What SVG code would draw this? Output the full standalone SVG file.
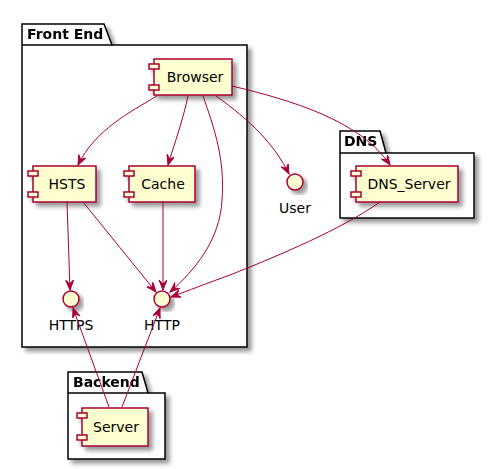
<svg xmlns="http://www.w3.org/2000/svg" width="495" height="469" viewBox="0 0 495 469">
<defs>
<filter id="sh" x="-20%" y="-20%" width="150%" height="150%">
<feGaussianBlur in="SourceAlpha" stdDeviation="2"/>
<feOffset dx="4" dy="4" result="b"/>
<feComponentTransfer><feFuncA type="linear" slope="0.4"/></feComponentTransfer>
<feMerge><feMergeNode/><feMergeNode in="SourceGraphic"/></feMerge>
</filter>
<marker id="ah" markerUnits="userSpaceOnUse" markerWidth="11" markerHeight="9" refX="10" refY="4" orient="auto" viewBox="0 0 11 9">
<path d="M0,0 L10,4 L0,8 L4,4 Z" fill="#A80036" stroke="#A80036" stroke-width="1"/>
</marker>
<style>
.pkg{fill:#FFFFFF;stroke:#000000;stroke-width:1.5;}
.pl{font-family:"DejaVu Sans",sans-serif;font-size:14px;font-weight:bold;fill:#000;}
.cb{fill:#FEFECE;stroke:#A80036;stroke-width:1.5;}
.t{font-family:"DejaVu Sans",sans-serif;font-size:14px;fill:#000;text-anchor:middle;}
.e{fill:none;stroke:#A80036;stroke-width:1;marker-end:url(#ah);}
</style>
</defs>
<rect width="495" height="469" fill="#FFFFFF"/>

<g id="pkg-frontend" filter="url(#sh)">
<path class="pkg" d="M22,24 L104,24 L112,45 L247,45 L247,347 L22,347 Z"/>
<line x1="22" y1="45" x2="112" y2="45" stroke="#000" stroke-width="1.5"/>
<text class="pl" x="27" y="39">Front End</text>
</g>
<g id="pkg-dns" filter="url(#sh)">
<path class="pkg" d="M340,131 L380,131 L386,153 L474,153 L474,218 L340,218 Z"/>
<line x1="340" y1="153" x2="386" y2="153" stroke="#000" stroke-width="1.5"/>
<text class="pl" x="344" y="146">DNS</text>
</g>
<g id="pkg-backend" filter="url(#sh)">
<path class="pkg" d="M68,372 L142,372 L148,393 L165,393 L165,459 L68,459 Z"/>
<line x1="68" y1="393" x2="148" y2="393" stroke="#000" stroke-width="1.5"/>
<text class="pl" x="73" y="387">Backend</text>
</g>

<g id="browser">
<g filter="url(#sh)">
<rect class="cb" x="154" y="59" width="78" height="36"/>
<rect class="cb" x="149" y="64" width="10" height="5"/>
<rect class="cb" x="149" y="85" width="10" height="5"/>
</g>
<text class="t" x="195" y="82">Browser</text>
</g>
<g id="hsts">
<g filter="url(#sh)">
<rect class="cb" x="33" y="166" width="63" height="36"/>
<rect class="cb" x="28" y="171" width="10" height="5"/>
<rect class="cb" x="28" y="192" width="10" height="5"/>
</g>
<text class="t" x="67" y="189">HSTS</text>
</g>
<g id="cache">
<g filter="url(#sh)">
<rect class="cb" x="129" y="166" width="66" height="36"/>
<rect class="cb" x="124" y="171" width="10" height="5"/>
<rect class="cb" x="124" y="192" width="10" height="5"/>
</g>
<text class="t" x="163" y="189">Cache</text>
</g>
<g id="dns_server">
<g filter="url(#sh)">
<rect class="cb" x="356" y="166" width="102" height="36"/>
<rect class="cb" x="351" y="171" width="10" height="5"/>
<rect class="cb" x="351" y="192" width="10" height="5"/>
</g>
<text class="t" x="409" y="189">DNS_Server</text>
</g>
<g id="server">
<g filter="url(#sh)">
<rect class="cb" x="82" y="408" width="66" height="38"/>
<rect class="cb" x="77" y="413" width="10" height="5"/>
<rect class="cb" x="77" y="435" width="10" height="5"/>
</g>
<text class="t" x="116" y="432">Server</text>
</g>
<g id="https">
<circle class="cb" cx="71" cy="299" r="8" filter="url(#sh)"/>
<text class="t" x="71" y="330">HTTPS</text>
</g>
<g id="http">
<circle class="cb" cx="162" cy="299" r="8" filter="url(#sh)"/>
<text class="t" x="162" y="330">HTTP</text>
</g>
<g id="user">
<circle class="cb" cx="295" cy="182" r="8" filter="url(#sh)"/>
<text class="t" x="295" y="213">User</text>
</g>

<g id="connectors">
<path class="e" d="M157,96 C130,112 95,130 78,165"/>
<path class="e" d="M188,96 C183,120 174,145 168,165"/>
<path class="e" d="M203,96 C215,130 225,160 222,200 C220,240 195,270 170,292"/>
<path class="e" d="M216,96 C250,120 275,145 289,174"/>
<path class="e" d="M232,86 C290,100 360,120 390,165"/>
<path class="e" d="M67,202 L70,290"/>
<path class="e" d="M83,202 L156,292"/>
<path class="e" d="M163,202 L163,290"/>
<path class="e" d="M380,202 C340,230 280,255 230,275 C205,284 190,290 171,297"/>
<path class="e" d="M109,407 L73,308"/>
<path class="e" d="M122,407 L160,308"/>
</g>
</svg>
